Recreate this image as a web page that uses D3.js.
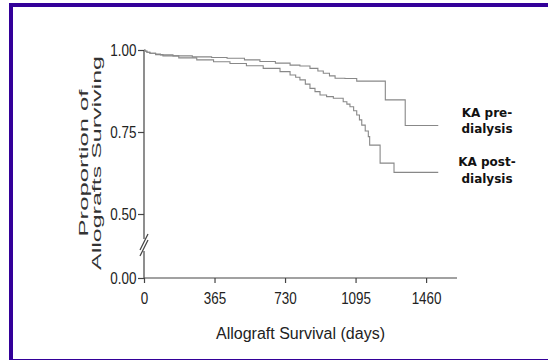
<!DOCTYPE html>
<html>
<head>
<meta charset="utf-8">
<title>Allograft Survival</title>
<script type="text/javascript" src="https://d3js.org/d3.v7.min.js"></script>
<style>
body { margin: 0; background: #fff; }
.tick text { font-family: "Liberation Sans Narrow", "Arial Narrow", sans-serif; font-size: 16px; fill: #222; }
.axis line, .axis-line { stroke: #444; stroke-width: 1.2; }
.curve { fill: none; stroke: #888; stroke-width: 1.1; }
.ylabel { font-family: "Liberation Sans", Arial, sans-serif; font-size: 13px; fill: #333; }
.xlabel { font-family: "Liberation Sans Narrow", "Arial Narrow", sans-serif; font-size: 16px; fill: #222; }
.serie_label { font-family: "DejaVu Sans", sans-serif; font-weight: bold; font-size: 12px; fill: #111; }
</style>
</head>
<body>
<div id="container"></div>
<script>

//---------------------------DATA--------------------------------//
// Kaplan-Meier steps: [days, proportion surviving]
var preDialysis = [
    [0, 1.0], [5, 0.997], [15, 0.993], [30, 0.990], [60, 0.988], [85, 0.985],
    [150, 0.982], [250, 0.979], [350, 0.977], [430, 0.975], [520, 0.970],
    [600, 0.965], [680, 0.960], [756, 0.954], [807, 0.951], [859, 0.944],
    [900, 0.936], [928, 0.929], [960, 0.921], [989, 0.914], [1040, 0.913],
    [1101, 0.905], [1249, 0.848], [1352, 0.770], [1523, 0.770]
];
var postDialysis = [
    [0, 1.0], [5, 0.996], [15, 0.993], [31, 0.990], [60, 0.986], [98, 0.982],
    [180, 0.976], [273, 0.970], [360, 0.964], [445, 0.959], [530, 0.952],
    [617, 0.944], [704, 0.934], [756, 0.924], [785, 0.917], [807, 0.909],
    [835, 0.896], [859, 0.883], [885, 0.873], [911, 0.863], [945, 0.858],
    [980, 0.853], [1031, 0.842], [1050, 0.835], [1066, 0.827], [1085, 0.815],
    [1101, 0.802], [1115, 0.787], [1127, 0.771], [1145, 0.753], [1161, 0.736],
    [1168, 0.710], [1222, 0.655], [1294, 0.627], [1523, 0.627]
];
var seriesNames = [["KA pre-", "dialysis"], ["KA post-", "dialysis"]];
var xTicks = [0, 365, 730, 1095, 1460];
var yTicks = [0, 0.5, 0.75, 1];
var yTitle = ["Proportion of", "Allografts Surviving"];
var xTitle = "Allograft Survival (days)";

//---------------------------SVG---------------------------------//
var width = 548, height = 360;
var svg = d3.select("div#container").append("svg")
    .attr("width", width)
    .attr("height", height);

// purple frame of the slide
svg.append("rect")
    .attr("x", 11).attr("y", 5)
    .attr("width", 600).attr("height", 356)
    .attr("fill", "none")
    .attr("stroke", "#330099")
    .attr("stroke-width", 4);

//---------------------------SCALES------------------------------//
var xScale = d3.scaleLinear().domain([0, 1620]).range([144, 457]);
// broken axis: 0 then 0.5..1
var yScale = d3.scaleLinear().domain([0, 0.5, 1]).range([278, 214, 50]);

//----------------------------AXES-------------------------------//
var xaxis = d3.axisBottom(xScale)
    .tickValues(xTicks)
    .tickSize(5)
    .tickSizeOuter(0)
    .tickPadding(10)
    .tickFormat(d3.format("d"));

var yaxis = d3.axisLeft(yScale)
    .tickValues(yTicks)
    .tickSize(6)
    .tickPadding(3)
    .tickFormat(d3.format(".2f"));

var gx = svg.append("g")
    .attr("class", "axis")
    .attr("transform", "translate(0," + yScale(0) + ")")
    .call(xaxis);
gx.select(".domain").remove();
gx.selectAll(".tick text").attr("transform", "scale(0.84,1)");

var gy = svg.append("g")
    .attr("class", "axis")
    .attr("transform", "translate(" + xScale(0) + ",0)")
    .call(yaxis);
gy.select(".domain").remove();
gy.selectAll(".tick text").attr("transform", "scale(0.84,1)");

// x axis line
svg.append("line")
    .attr("class", "axis-line")
    .attr("x1", xScale(0)).attr("x2", xScale(1620))
    .attr("y1", yScale(0)).attr("y2", yScale(0));

// y axis with break
var yb = (yScale(0) + yScale(0.5)) / 2;
var ax = xScale(0);
svg.append("line").attr("class", "axis-line")
    .attr("x1", ax).attr("x2", ax).attr("y1", yScale(1)).attr("y2", yb - 7);
svg.append("line").attr("class", "axis-line")
    .attr("x1", ax).attr("x2", ax).attr("y1", yb + 5).attr("y2", yScale(0));
[-3, 3].forEach(function(o) {
    svg.append("line").attr("class", "axis-line")
        .attr("x1", ax - 4).attr("y1", yb + 7 + o)
        .attr("x2", ax + 4).attr("y2", yb - 9 + o);
});

//---------------------------LINES-------------------------------//
var line = d3.line()
    .curve(d3.curveStepAfter)
    .x(function(d) { return xScale(d[0]); })
    .y(function(d) { return yScale(d[1]); });

svg.selectAll(".curve")
    .data([preDialysis, postDialysis])
    .enter()
    .append("path")
    .attr("class", "curve")
    .attr("d", line);

//---------------------------LABELS------------------------------//
var labelY = [yScale(0.775) - 7, yScale(0.627) - 6];
seriesNames.forEach(function(name, i) {
    var t = svg.append("text")
        .attr("class", "serie_label")
        .attr("text-anchor", "middle")
        .attr("x", 487)
        .attr("y", labelY[i]);
    name.forEach(function(s, j) {
        t.append("tspan").attr("x", 487).attr("dy", j ? 16.5 : 0).text(s);
    });
});

var yLen = [147, 214];
yTitle.forEach(function(s, i) {
    svg.append("text")
        .attr("class", "ylabel")
        .attr("text-anchor", "middle")
        .attr("transform", "translate(" + (88 + i * 13) + ",163) rotate(-90)")
        .attr("textLength", yLen[i])
        .attr("lengthAdjust", "spacingAndGlyphs")
        .text(s);
});

svg.append("text")
    .attr("class", "xlabel")
    .attr("text-anchor", "middle")
    .attr("x", (xScale(0) + xScale(1620)) / 2)
    .attr("y", 339)
    .text(xTitle);

</script>
</body>
</html>
